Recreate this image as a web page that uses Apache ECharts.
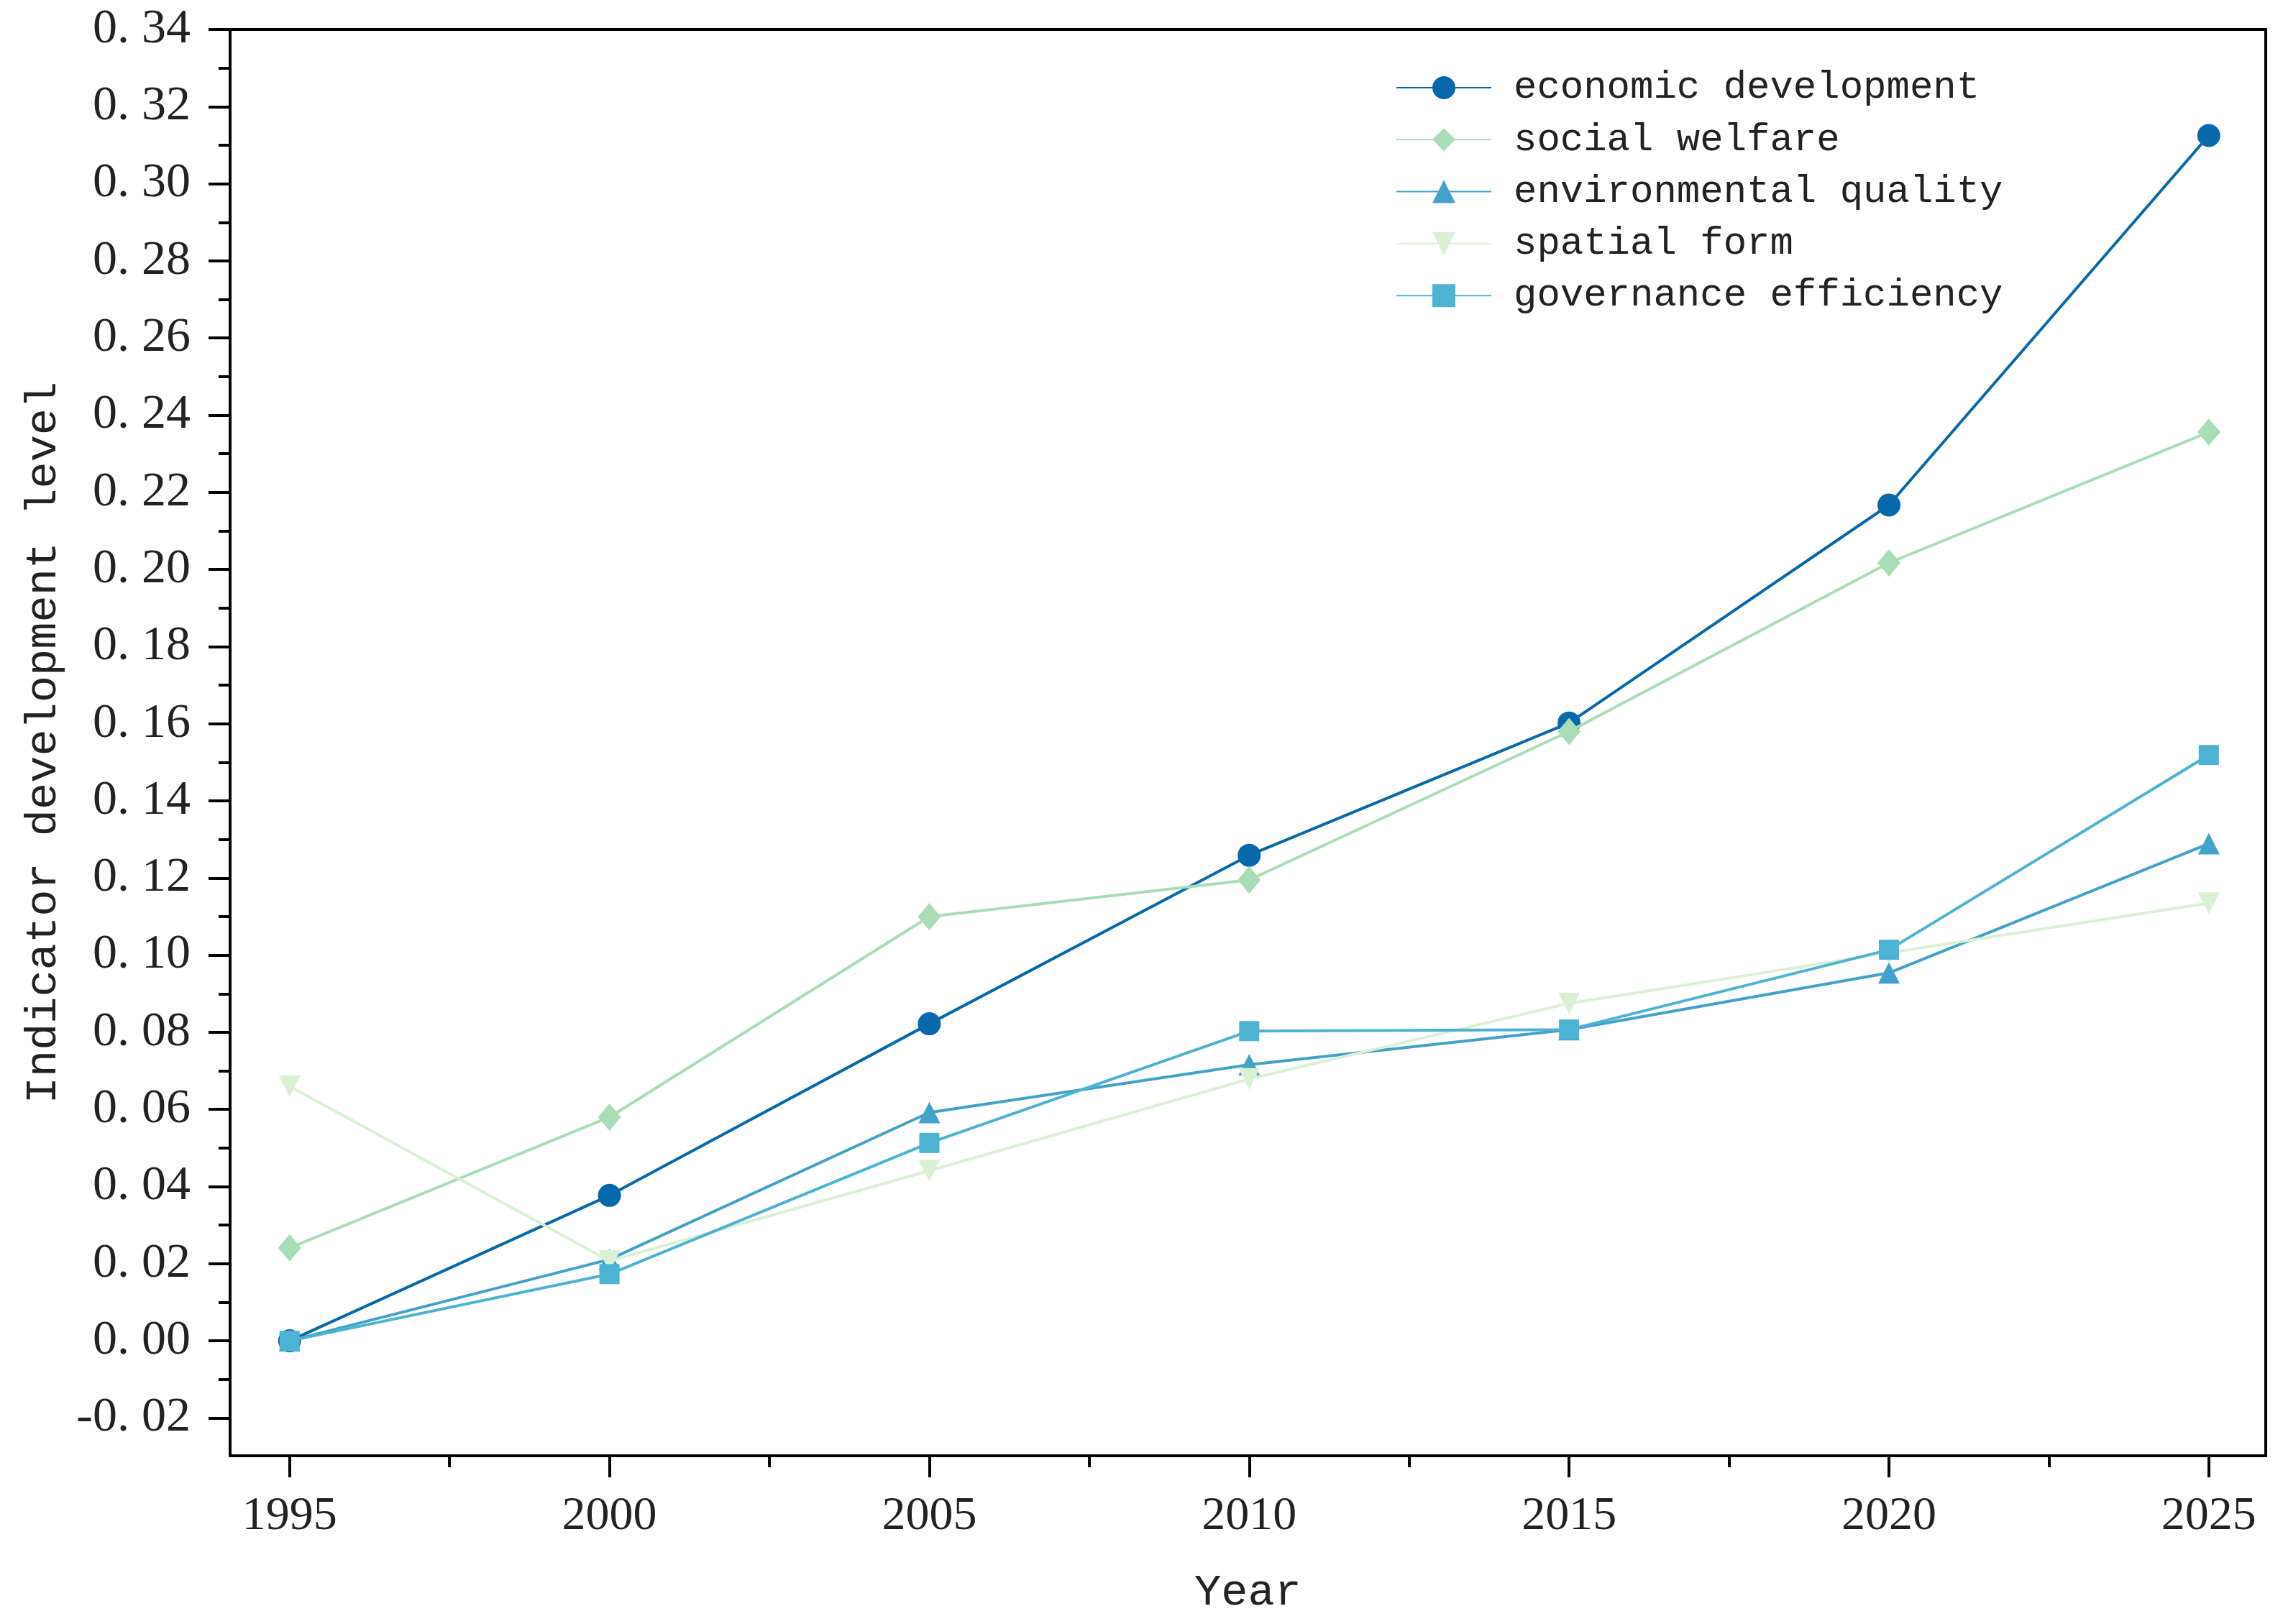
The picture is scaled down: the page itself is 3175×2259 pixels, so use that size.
<!DOCTYPE html>
<html>
<head>
<meta charset="utf-8">
<script src="https://cdn.jsdelivr.net/npm/echarts@6/dist/echarts.min.js"></script>
<style>
html,body{margin:0;padding:0;background:#fff;}
#chart{width:3175px;height:2259px;}
</style>
</head>
<body>
<div id="chart"></div>
<script>
const years = [1995, 2000, 2005, 2010, 2015, 2020, 2025];
const economicDevelopment = [0.000, 0.0377, 0.0822, 0.1259, 0.1602, 0.2167, 0.3125];
const socialWelfare = [0.0241, 0.0580, 0.1100, 0.1195, 0.1580, 0.2017, 0.2356];
const environmentalQuality = [0.000, 0.0211, 0.0592, 0.0716, 0.0807, 0.0954, 0.1289];
const spatialForm = [0.0660, 0.0207, 0.0441, 0.0679, 0.0875, 0.1006, 0.1135];
const governanceEfficiency = [0.000, 0.0173, 0.0513, 0.0803, 0.0807, 0.1014, 0.1519];
const seriesNames = ['economic development', 'social welfare', 'environmental quality', 'spatial form', 'governance efficiency'];
const yMajorTicks = [-0.02, 0.00, 0.02, 0.04, 0.06, 0.08, 0.10, 0.12, 0.14, 0.16, 0.18, 0.20, 0.22, 0.24, 0.26, 0.28, 0.30, 0.32, 0.34];
const yMinorTicks = [-0.01, 0.01, 0.03, 0.05, 0.07, 0.09, 0.11, 0.13, 0.15, 0.17, 0.19, 0.21, 0.23, 0.25, 0.27, 0.29, 0.31, 0.33];
const xMajorTicks = [1995, 2000, 2005, 2010, 2015, 2020, 2025];
const xMinorTicks = [1997.5, 2002.5, 2007.5, 2012.5, 2017.5, 2022.5];

const allValues = [economicDevelopment, socialWelfare, environmentalQuality, spatialForm, governanceEfficiency];
const colors = ['#0868ac', '#a8ddb5', '#43a2ca', '#d9f0d3', '#4eb3d3'];
const symbols = ['circle', 'diamond', 'triangle', 'triangle', 'rect'];
const symbolSizes = [32, [32, 38], 30, 30, 28];
const symbolRotates = [0, 0, 0, 180, 0];

const chart = echarts.init(document.getElementById('chart'), null, {renderer: 'canvas'});

const XMIN = 1994.07, XMAX = 2025.89, YMIN = -0.0298, YMAX = 0.34;
const labelFont = 'Liberation Serif';
const monoFont = 'Liberation Mono';

const series = allValues.map((vals, i) => ({
  name: seriesNames[i],
  type: 'line',
  xAxisIndex: 0,
  yAxisIndex: 0,
  data: years.map((y, j) => [y, vals[j]]),
  symbol: symbols[i],
  symbolSize: symbolSizes[i],
  symbolRotate: symbolRotates[i],
  showAllSymbol: true,
  lineStyle: {color: colors[i], width: 4},
  itemStyle: {color: colors[i]},
  emphasis: {disabled: true},
  animation: false,
  z: 2 + i
}));

const option = {
  backgroundColor: '#ffffff',
  animation: false,
  grid: {
    left: 320, right: 24, top: 41, bottom: 234,
    outerBoundsMode: 'none', containLabel: false,
    show: true, borderColor: '#000', borderWidth: 4, backgroundColor: 'transparent'
  },
  legend: {
    data: seriesNames,
    orient: 'vertical',
    left: 1936,
    top: 89,
    itemWidth: 132,
    itemHeight: 40,
    itemGap: 16.3,
    textStyle: {fontFamily: monoFont, fontSize: 54, color: '#222', lineHeight: 56, padding: [0, 0, 0, 26]}
  },
  xAxis: [{
    type: 'value', min: XMIN, max: XMAX,
    name: 'Year', nameLocation: 'middle', nameGap: 160,
    nameTextStyle: {fontFamily: monoFont, fontSize: 62, color: '#222'},
    axisLine: {show: true, onZero: false, lineStyle: {color: '#000', width: 4}},
    axisTick: {show: true, customValues: xMajorTicks, length: 30, inside: false, lineStyle: {color: '#000', width: 4}},
    axisLabel: {customValues: xMajorTicks, fontFamily: labelFont, fontSize: 66, color: '#222', margin: 52, formatter: v => String(Math.round(v))},
    splitLine: {show: false}
  }, {
    type: 'value', min: XMIN, max: XMAX, position: 'bottom',
    axisLine: {show: false, onZero: false},
    axisTick: {show: true, customValues: xMinorTicks, length: 16, inside: false, lineStyle: {color: '#000', width: 4}},
    axisLabel: {show: false},
    splitLine: {show: false}
  }],
  yAxis: [{
    type: 'value', min: YMIN, max: YMAX,
    name: 'Indicator development level', nameLocation: 'middle', nameGap: 228, nameRotate: 90,
    nameTextStyle: {fontFamily: monoFont, fontSize: 62, color: '#222'},
    axisLine: {show: true, onZero: false, lineStyle: {color: '#000', width: 4}},
    axisTick: {show: true, customValues: yMajorTicks, length: 30, inside: false, lineStyle: {color: '#000', width: 4}},
    axisLabel: {customValues: yMajorTicks, fontFamily: labelFont, fontSize: 68, color: '#222', margin: 55,
      formatter: v => { const s = (Math.round(v * 100) / 100).toFixed(2); return s.replace('.', '. '); }},
    splitLine: {show: false}
  }, {
    type: 'value', min: YMIN, max: YMAX, position: 'left',
    axisLine: {show: false, onZero: false},
    axisTick: {show: true, customValues: yMinorTicks, length: 16, inside: false, lineStyle: {color: '#000', width: 4}},
    axisLabel: {show: false},
    splitLine: {show: false}
  }],
  series: series
};
chart.setOption(option);
</script>
</body>
</html>
